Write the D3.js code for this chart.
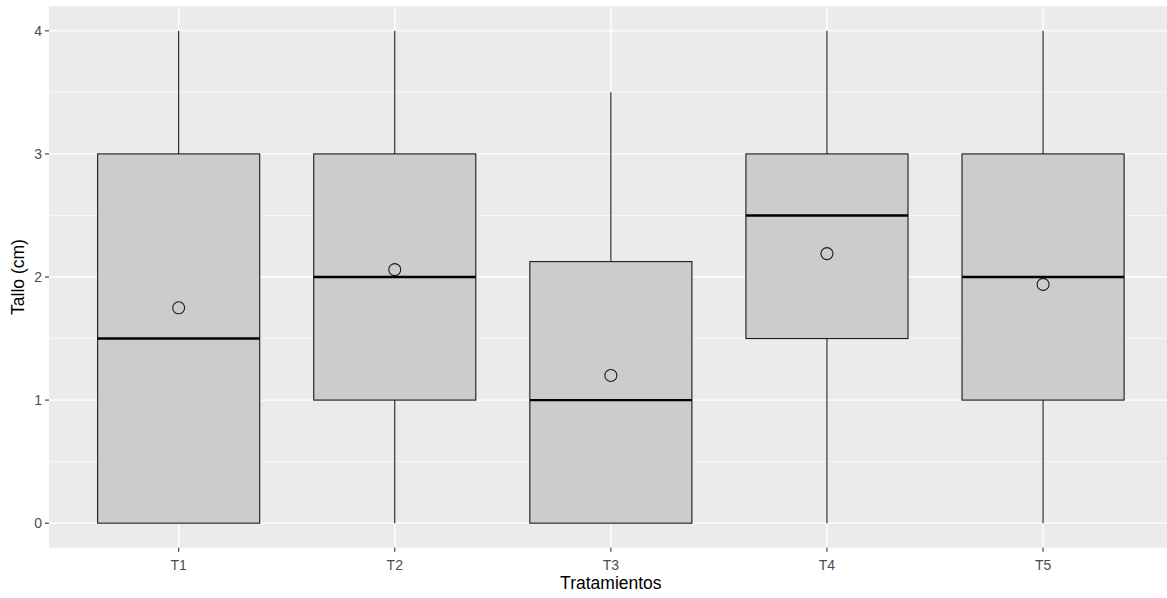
<!DOCTYPE html>
<html><head><meta charset="utf-8">
<script src="https://cdn.jsdelivr.net/npm/d3@7"></script>
<style>body{margin:0;background:#fff}svg{display:block;font-family:"Liberation Sans",Arial,sans-serif}</style>
</head><body><svg id="c" width="1167" height="598"></svg>
<script>
const categories = ["T1","T2","T3","T4","T5"];
const whiskerLow = [0,0,0,0,0];
const q1 = [0,1,0,1.5,1];
const medians = [1.5,2,1,2.5,2];
const q3 = [3,3,2.125,3,3];
const whiskerHigh = [4,4,3.5,4,4];
const means = [1.75,2.06,1.2,2.19,1.94];
const yTicks = [0,1,2,3,4];
const xTitle = "Tratamientos";
const yTitle = "Tallo (cm)";

(function(){
const svg = d3.select("#c");
const pl = 49, pt = 6.2, pb = 547.8;
const step = 216.1;
const pr = pl + step*5.2;

const x = d3.scaleBand().domain(categories).range([pl, pr]).paddingOuter(0.1).paddingInner(0);
const xc = c => x(c) + x.bandwidth()/2;
const y = d3.scaleLinear().domain([-0.2,4.2]).range([pb, pt]);

svg.append("rect").attr("x",pl).attr("y",pt).attr("width",pr-pl).attr("height",pb-pt).attr("fill","#EBEBEB");
const minor = [0.5,1.5,2.5,3.5];
svg.append("g").selectAll("line").data(minor).join("line")
  .attr("x1",pl).attr("x2",pr).attr("y1",d=>y(d)).attr("y2",d=>y(d))
  .attr("stroke","#fff").attr("stroke-width",0.6);
svg.append("g").selectAll("line").data(yTicks).join("line")
  .attr("x1",pl).attr("x2",pr).attr("y1",d=>y(d)).attr("y2",d=>y(d))
  .attr("stroke","#fff").attr("stroke-width",1.3);
svg.append("g").selectAll("line").data(categories).join("line")
  .attr("x1",d=>xc(d)).attr("x2",d=>xc(d)).attr("y1",pt).attr("y2",pb)
  .attr("stroke","#fff").attr("stroke-width",1.3);

const data = categories.map((c,i)=>({c,lo:whiskerLow[i],q1:q1[i],med:medians[i],q3:q3[i],hi:whiskerHigh[i],mean:means[i]}));
const bw = x.bandwidth()*0.75;
const g = svg.append("g");
data.forEach(d=>{
  const cx = xc(d.c);
  g.append("line").attr("x1",cx).attr("x2",cx).attr("y1",y(d.q3)).attr("y2",y(d.hi)).attr("stroke","#1a1a1a").attr("stroke-width",1.1);
  g.append("line").attr("x1",cx).attr("x2",cx).attr("y1",y(d.q1)).attr("y2",y(d.lo)).attr("stroke","#1a1a1a").attr("stroke-width",1.1);
  g.append("rect").attr("x",cx-bw/2).attr("y",y(d.q3)).attr("width",bw).attr("height",Math.max(0,y(d.q1)-y(d.q3)))
    .attr("fill","#CCCCCC").attr("stroke","#1a1a1a").attr("stroke-width",1.1);
  g.append("line").attr("x1",cx-bw/2).attr("x2",cx+bw/2).attr("y1",y(d.med)).attr("y2",y(d.med)).attr("stroke","#000").attr("stroke-width",2.4);
  g.append("circle").attr("cx",cx).attr("cy",y(d.mean)).attr("r",6).attr("fill","none").attr("stroke","#1a1a1a").attr("stroke-width",1.1);
});

const yAxis = svg.append("g");
yTicks.forEach(t=>{
  yAxis.append("line").attr("x1",pl-4).attr("x2",pl).attr("y1",y(t)).attr("y2",y(t)).attr("stroke","#333").attr("stroke-width",1.1);
  yAxis.append("text").attr("x",pl-7).attr("y",y(t)).attr("dy","0.35em").attr("text-anchor","end")
    .attr("fill","#4D4D4D").attr("font-size",14).text(t);
});
const xAxis = svg.append("g");
categories.forEach(c=>{
  xAxis.append("line").attr("x1",xc(c)).attr("x2",xc(c)).attr("y1",pb).attr("y2",pb+4).attr("stroke","#333").attr("stroke-width",1.1);
  xAxis.append("text").attr("x",xc(c)).attr("y",570).attr("text-anchor","middle")
    .attr("fill","#4D4D4D").attr("font-size",14).text(c);
});
svg.append("text").attr("x",(pl+pr)/2).attr("y",589).attr("text-anchor","middle").attr("font-size",17.5).attr("fill","#000").text(xTitle);
svg.append("text").attr("transform",`translate(24,${(pt+pb)/2}) rotate(-90)`).attr("text-anchor","middle").attr("font-size",17.5).attr("fill","#000").text(yTitle);
})();
</script></body></html>
